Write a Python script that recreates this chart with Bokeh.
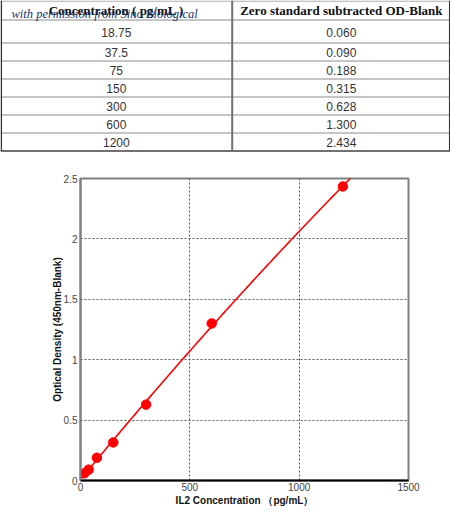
import numpy as np
from bokeh.plotting import figure
from bokeh.models import Range1d, FixedTicker, ColumnDataSource
from bokeh.embed import file_html
from bokeh.resources import INLINE
from bokeh.core.properties import value

# ---------------- data ----------------
concentration = [18.75, 37.5, 75, 150, 300, 600, 1200]
od_blank = [0.060, 0.090, 0.188, 0.315, 0.628, 1.300, 2.434]
conc_labels = ["18.75", "37.5", "75", "150", "300", "600", "1200"]
od_labels = ["0.060", "0.090", "0.188", "0.315", "0.628", "1.300", "2.434"]
header_labels = ["Concentration ( pg/mL )", "Zero standard subtracted OD-Blank"]
watermark = "with permission from Sino Biological"
x_ticks = [0, 500, 1000, 1500]
x_tick_labels = ["0", "500", "1000", "1500"]
y_ticks = [0, 0.5, 1, 1.5, 2, 2.5]
y_tick_labels = ["0", "0.5", "1", "1.5", "2", "2.5"]
x_title = "IL2 Concentration （pg/mL）"
y_title = "Optical Density (450nm-Blank)"

# ---------------- table ----------------
TW, TH = 450, 152
COL_SPLIT = 231.7
HEADER_BOTTOM = 19.5
FIRST_ROW_BOTTOM = 42.5
ROW_H = 18.0

t = figure(width=TW, height=TH, x_range=Range1d(0, TW), y_range=Range1d(TH, 0),
           output_backend="svg", toolbar_location=None, min_border=0,
           x_axis_location=None, y_axis_location=None)
t.grid.visible = False
t.outline_line_color = None
t.background_fill_color = "white"
t.border_fill_color = "white"

n = len(conc_labels)
edges = [HEADER_BOTTOM, FIRST_ROW_BOTTOM] + [FIRST_ROW_BOTTOM + ROW_H * (i + 1) for i in range(n - 1)]
t.segment(x0=[0] * len(edges), x1=[TW] * len(edges), y0=edges, y1=edges, line_color="#8c8c8c", line_width=1.2)
# top border
t.segment(x0=[0], x1=[TW], y0=[0.6], y1=[0.6], line_color="#9a9a9a", line_width=1)
# bottom border
t.segment(x0=[0], x1=[TW], y0=[edges[-1]], y1=[edges[-1]], line_color="#555555", line_width=1.5)
# vertical borders
t.segment(x0=[0.8, TW - 0.8], x1=[0.8, TW - 0.8], y0=[0, 0], y1=[edges[-1], edges[-1]],
          line_color="#333333", line_width=1.5)
t.segment(x0=[COL_SPLIT], x1=[COL_SPLIT], y0=[0], y1=[edges[-1]], line_color="#707070", line_width=2)

left_c = COL_SPLIT / 2
right_c = (COL_SPLIT + TW) / 2
row_centers = [(edges[i] + edges[i + 1]) / 2 + 0.8 for i in range(n)]

t.text(x=[left_c, right_c], y=[10, 10], text=header_labels,
       text_font=value("Liberation Serif"), text_font_style="bold", text_font_size="13px",
       text_color="#111111", text_align="center", text_baseline="middle")

body = ColumnDataSource(dict(xl=[left_c] * n, xr=[right_c] * n, y=row_centers,
                             cl=conc_labels, od=od_labels))
t.text(x="xl", y="y", text="cl", source=body, text_font=value("Liberation Sans"),
       text_font_size="12px", text_color="#333333", text_align="center", text_baseline="middle")
t.text(x="xr", y="y", text="od", source=body, text_font=value("Liberation Sans"),
       text_font_size="12px", text_color="#333333", text_align="center", text_baseline="middle")

t.text(x=[11], y=[13.5], text=[watermark], text_font=value("Liberation Serif"),
       text_font_style="italic", text_font_size="12.5px", text_color="#17346e",
       text_align="left", text_baseline="middle")

# ---------------- chart ----------------
p = figure(frame_width=328, frame_height=302, x_range=Range1d(0, 1500), y_range=Range1d(0, 2.5),
           output_backend="svg", toolbar_location=None,
           min_border_left=80, min_border_right=42, min_border_top=26, min_border_bottom=47)
p.background_fill_color = "white"
p.border_fill_color = "white"
p.outline_line_color = "#808080"
p.outline_line_width = 2

p.xaxis.ticker = FixedTicker(ticks=x_ticks)
p.yaxis.ticker = FixedTicker(ticks=y_ticks)
p.xaxis.major_label_overrides = {t_: l for t_, l in zip(x_ticks, x_tick_labels)}
p.yaxis.major_label_overrides = {t_: l for t_, l in zip(y_ticks, y_tick_labels)}

for ax in (p.xaxis, p.yaxis):
    ax.major_tick_line_color = None
    ax.minor_tick_line_color = None
    ax.major_tick_out = 0
    ax.major_tick_in = 0
    ax.minor_tick_out = 0
    ax.major_label_text_font = "Liberation Sans"
    ax.major_label_text_font_size = "10px"
    ax.major_label_text_color = "#444444"
    ax.axis_label_text_font = "Liberation Sans"
    ax.axis_label_text_font_style = "bold"
    ax.axis_label_text_font_size = "10px"
    ax.axis_label_text_color = "#111111"

p.xaxis.axis_line_color = "black"
p.xaxis.axis_line_width = 2
p.yaxis.axis_line_color = "#808080"
p.yaxis.axis_line_width = 2
p.xaxis.major_label_standoff = 2
p.yaxis.major_label_standoff = 3
p.xaxis.axis_label = x_title
p.yaxis.axis_label = y_title
p.xaxis.axis_label_standoff = 1
p.yaxis.axis_label_standoff = -2

p.grid.grid_line_color = "#555555"
p.grid.grid_line_dash = "2 2"
p.grid.grid_line_width = 1

coeffs = np.polyfit(concentration, od_blank, 2)
fit_x = np.linspace(0, 1300, 120)
fit_y = np.polyval(coeffs, fit_x)
p.line(fit_x, fit_y, line_color="red", line_width=1.6)
p.scatter(concentration, od_blank, size=9.5, fill_color="red", line_color="red")

open("out.html", "w").write(file_html([t, p], INLINE))
